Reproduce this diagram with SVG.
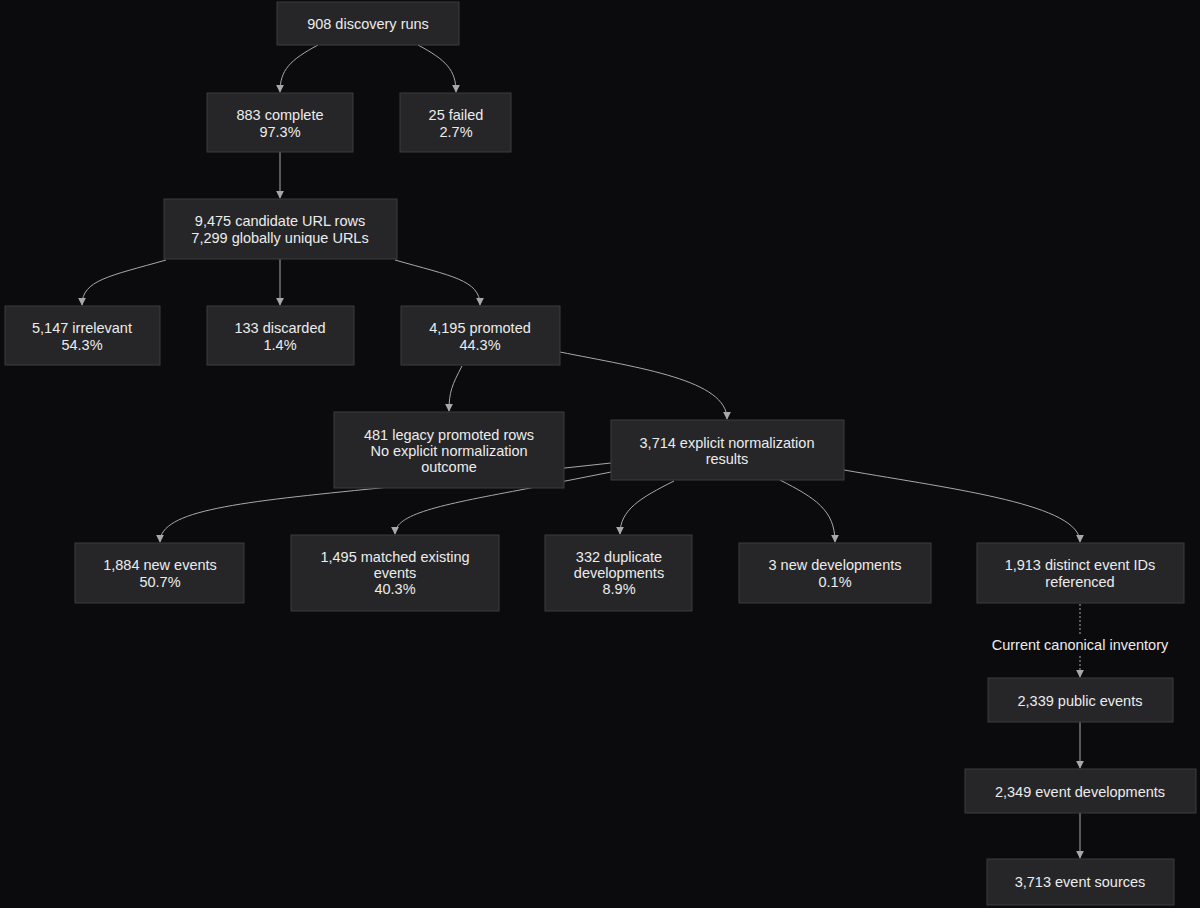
<svg xmlns="http://www.w3.org/2000/svg" width="1200" height="908" viewBox="0 0 1200 908">
<defs>
<style>
.n rect{fill:#262629;stroke:#3c3c40;stroke-width:1}
.n text{fill:#ececec;font-family:"Liberation Sans",Arial,sans-serif;font-size:14.5px;text-anchor:middle}
.e path{fill:none;stroke:#a8a8a8;stroke-width:1}
.lbl{fill:#ececec;font-family:"Liberation Sans",Arial,sans-serif;font-size:14.5px;text-anchor:middle}
</style>
<marker id="a" viewBox="0 0 10 10" refX="9" refY="5" markerWidth="8" markerHeight="8" orient="auto"><path d="M0,0L10,5L0,10z" fill="#a8a8a8"/></marker>
</defs>
<rect width="1200" height="908" fill="#0b0b0d"/>
<g class="e" id="edges">
<path marker-end="url(#a)" d="M318,45 C290,60 280,70 280,92"/>
<path marker-end="url(#a)" d="M418,45 C446,60 456,70 456,92"/>
<path marker-end="url(#a)" d="M280,152 L280,198"/>
<path marker-end="url(#a)" d="M166,260 C110,276 82,280 82,305"/>
<path marker-end="url(#a)" d="M280,259 L280,305"/>
<path marker-end="url(#a)" d="M395,260 C451,276 480,280 480,305"/>
<path marker-end="url(#a)" d="M462,366 C452,385 449,392 449,411"/>
<path marker-end="url(#a)" d="M560,352 C640,368 727,380 727,419"/>
<path marker-end="url(#a)" d="M611,463 L380,488 C240,502 160,510 160,542"/>
<path marker-end="url(#a)" d="M611,472 L520,490 C440,505 395,514 395,534"/>
<path marker-end="url(#a)" d="M674,481 C640,498 620,510 620,534"/>
<path marker-end="url(#a)" d="M780,480 C815,498 835,510 835,542"/>
<path marker-end="url(#a)" d="M844,470 C960,490 1080,505 1080,542"/>
<path marker-end="url(#a)" d="M1080,604 L1080,677" stroke-dasharray="2,2"/>
<path marker-end="url(#a)" d="M1080,722 L1080,768"/>
<path marker-end="url(#a)" d="M1080,813 L1080,858"/>
</g>
<rect x="988" y="634" width="184" height="22" fill="#0b0b0d"/>
<text class="lbl" x="1080" y="650">Current canonical inventory</text>
<g class="n" id="n1"><rect x="277" y="2" width="182" height="43"/><text x="368" y="29">908 discovery runs</text></g>
<g class="n" id="n2"><rect x="207" y="93" width="146" height="59"/><text x="280" y="120">883 complete</text><text x="280" y="137">97.3%</text></g>
<g class="n" id="n3"><rect x="400" y="93" width="111" height="59"/><text x="456" y="120">25 failed</text><text x="456" y="137">2.7%</text></g>
<g class="n" id="n4"><rect x="164" y="199" width="233" height="60"/><text x="280" y="226">9,475 candidate URL rows</text><text x="280" y="243">7,299 globally unique URLs</text></g>
<g class="n" id="n5"><rect x="5" y="306" width="155" height="59"/><text x="82" y="333">5,147 irrelevant</text><text x="82" y="350">54.3%</text></g>
<g class="n" id="n6"><rect x="207" y="306" width="147" height="59"/><text x="280" y="333">133 discarded</text><text x="280" y="350">1.4%</text></g>
<g class="n" id="n7"><rect x="401" y="306" width="159" height="59"/><text x="480" y="333">4,195 promoted</text><text x="480" y="350">44.3%</text></g>
<g class="n" id="n8"><rect x="334" y="412" width="230" height="76"/><text x="449" y="440">481 legacy promoted rows</text><text x="449" y="456">No explicit normalization</text><text x="449" y="472">outcome</text></g>
<g class="n" id="n9"><rect x="611" y="420" width="233" height="60"/><text x="727" y="448">3,714 explicit normalization</text><text x="727" y="464">results</text></g>
<g class="n" id="n10"><rect x="75" y="543" width="169" height="60"/><text x="160" y="570">1,884 new events</text><text x="160" y="587">50.7%</text></g>
<g class="n" id="n11"><rect x="291" y="535" width="208" height="76"/><text x="395" y="562">1,495 matched existing</text><text x="395" y="578">events</text><text x="395" y="594">40.3%</text></g>
<g class="n" id="n12"><rect x="545" y="535" width="147" height="76"/><text x="619" y="562">332 duplicate</text><text x="619" y="578">developments</text><text x="619" y="594">8.9%</text></g>
<g class="n" id="n13"><rect x="739" y="543" width="192" height="60"/><text x="835" y="570">3 new developments</text><text x="835" y="587">0.1%</text></g>
<g class="n" id="n14"><rect x="977" y="543" width="207" height="60"/><text x="1080" y="570">1,913 distinct event IDs</text><text x="1080" y="587">referenced</text></g>
<g class="n" id="n15"><rect x="988" y="678" width="185" height="44"/><text x="1080" y="706">2,339 public events</text></g>
<g class="n" id="n16"><rect x="965" y="769" width="231" height="44"/><text x="1080" y="797">2,349 event developments</text></g>
<g class="n" id="n17"><rect x="987" y="859" width="187" height="46"/><text x="1080" y="887">3,713 event sources</text></g>
</svg>
